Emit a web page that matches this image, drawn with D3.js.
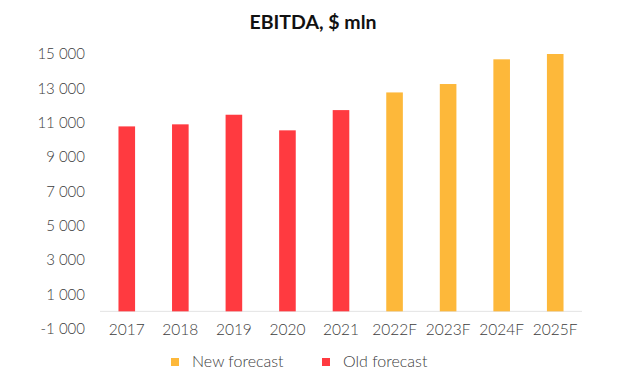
<!DOCTYPE html>
<html>
<head>
<meta charset="utf-8">
<script src="https://cdn.jsdelivr.net/npm/d3@7"></script>
<style>
  html, body { margin: 0; padding: 0; background: #fff; }
  svg { display: block; }
  text { font-family: Lato, "Open Sans", sans-serif; }
</style>
</head>
<body>
<div id="chart"></div>
<script>
const categories = ["2017", "2018", "2019", "2020", "2021", "2022F", "2023F", "2024F", "2025F"];
const oldForecast = [10780, 10900, 11460, 10550, 11730, null, null, null, null];
const newForecast = [null, null, null, null, null, 12760, 13250, 14690, 15000];
const yTicks = [-1000, 1000, 3000, 5000, 7000, 9000, 11000, 13000, 15000];
const seriesNames = ["New forecast", "Old forecast"];
const seriesColors = ["#FDB83A", "#FF3A40"];
const title = "EBITDA, $ mln";

const W = 640, H = 386;
const svg = d3.select("#chart").append("svg").attr("width", W).attr("height", H);

const x = d3.scaleBand().domain(categories).range([100, 582]).paddingInner(0.69).paddingOuter(0.345);
const y = d3.scaleLinear().domain([-1000, 15000]).range([328.5, 54]);

const fmt = v => (v < 0 ? "-" : "") + d3.format(",")(Math.abs(v)).replace(/,/g, " ");

svg.append("text")
  .attr("x", 313).attr("y", 29)
  .attr("text-anchor", "middle")
  .attr("font-size", 19.5).attr("font-weight", "bold")
  .attr("fill", "#111")
  .text(title);

// Y axis labels
const yAxis = d3.axisLeft(y).tickValues(yTicks).tickSize(0).tickPadding(0).tickFormat(fmt);
const gy = svg.append("g").attr("transform", "translate(85,0)").call(yAxis);
gy.select(".domain").remove();
gy.selectAll("text").attr("font-size", 15).attr("fill", "#3c3c3c").attr("font-weight", 300).attr("font-family", "Lato, sans-serif");

// zero line
svg.append("line")
  .attr("x1", 100).attr("x2", 582)
  .attr("y1", y(0)).attr("y2", y(0))
  .attr("stroke", "#e3e3e3").attr("stroke-width", 1);

const series = [newForecast, oldForecast];
series.forEach((vals, si) => {
  svg.append("g").selectAll("rect")
    .data(categories.map((c, i) => ({c, v: vals[i]})).filter(d => d.v != null))
    .join("rect")
    .attr("x", d => x(d.c))
    .attr("width", x.bandwidth())
    .attr("y", d => y(d.v))
    .attr("height", d => y(0) - y(d.v))
    .attr("fill", seriesColors[si]);
});

// X axis labels
const xAxis = d3.axisBottom(x).tickSize(0).tickPadding(0);
const gx = svg.append("g").attr("transform", `translate(0,${y(0) + 24})`).call(xAxis);
gx.select(".domain").remove();
gx.selectAll("text").attr("font-size", 15.5).attr("fill", "#3c3c3c").attr("font-weight", 300).attr("font-family", "Lato, sans-serif").attr("dy", 0);

// Legend
const legendX = [171, 322];
seriesNames.forEach((name, i) => {
  const g = svg.append("g").attr("transform", `translate(${legendX[i]},358)`);
  g.append("rect").attr("width", 8).attr("height", 8).attr("fill", seriesColors[i]);
  g.append("text").attr("x", 21).attr("y", 9).attr("font-size", 16).attr("font-weight", 300).attr("fill", "#3c3c3c").text(name);
});
</script>
</body>
</html>
